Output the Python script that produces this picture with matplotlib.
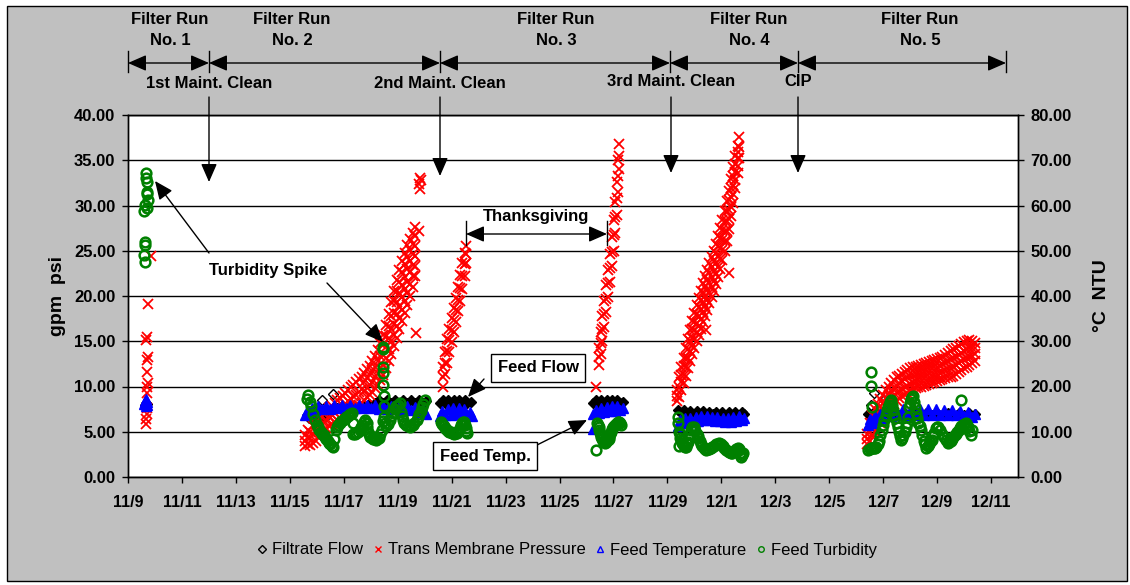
import pandas as pd
import matplotlib
matplotlib.use('Agg')
import matplotlib.pyplot as plt
from matplotlib.ticker import FuncFormatter, MultipleLocator, FormatStrFormatter
from matplotlib.lines import Line2D
from matplotlib.patches import Rectangle
import matplotlib.dates as mdates

plt.rcParams['font.family'] = ['Liberation Sans', 'DejaVu Sans']
plt.rcParams['font.weight'] = 'bold'

start = pd.Timestamp('2004-11-09')

# all times are days after 11/9 0:00
flow_pts = [  # (day, gpm)
    (0.62, 8.0), (0.66, 8.2), (0.70, 8.1), (0.64, 7.8),
    (6.62, 6.8), (6.72, 6.5), (6.82, 7.0), (6.92, 6.4), (7.02, 6.8), (7.12, 6.5),
    (7.22, 6.9), (7.32, 6.6), (7.42, 7.0), (7.55, 7.4),
    (7.75, 7.6), (7.95, 7.8), (8.15, 7.7), (8.35, 7.9), (8.55, 7.8), (8.75, 8.0),
    (8.95, 8.1), (9.15, 8.2), (9.30, 8.5), (9.45, 8.2), (9.60, 8.5), (9.75, 8.2),
    (9.90, 8.5), (10.05, 8.2), (10.20, 8.5), (10.35, 8.2), (10.50, 8.5), (10.65, 8.2),
    (10.80, 8.5), (10.95, 8.2), (11.05, 8.4),
    (11.58, 8.2), (11.68, 8.5), (11.78, 8.1), (11.88, 8.5), (11.98, 8.2), (12.08, 8.5),
    (12.18, 8.1), (12.28, 8.5), (12.38, 8.2), (12.48, 8.5), (12.58, 8.2), (12.70, 8.3),
    (17.25, 8.2), (17.35, 8.5), (17.45, 8.1), (17.55, 8.5), (17.65, 8.2), (17.75, 8.5),
    (17.85, 8.1), (17.95, 8.5), (18.05, 8.2), (18.15, 8.5), (18.25, 8.2), (18.36, 8.3),
    (20.38, 7.4), (20.50, 7.1), (20.60, 7.4), (20.72, 7.1), (20.84, 7.3), (20.96, 7.0),
    (21.08, 7.3), (21.20, 7.0), (21.32, 7.3), (21.44, 7.0), (21.56, 7.2), (21.68, 7.0),
    (21.80, 7.2), (21.92, 6.9), (22.04, 7.2), (22.16, 6.9), (22.28, 7.2), (22.40, 6.9),
    (22.52, 7.2), (22.64, 6.9), (22.76, 7.2), (22.85, 7.0),
    (27.42, 7.0), (27.60, 7.2), (27.80, 7.0),
    (28.00, 7.2), (28.20, 6.9), (28.40, 7.1), (28.60, 6.9), (28.80, 7.1), (29.00, 6.9),
    (29.20, 7.1), (29.40, 6.9), (29.60, 7.1), (29.80, 6.9), (30.00, 7.1), (30.20, 6.9),
    (30.40, 7.1), (30.60, 6.9), (30.80, 7.1), (31.00, 6.9), (31.20, 7.1), (31.42, 7.0),
]
flow_stray = [(7.20, 8.5), (7.60, 9.2), (27.55, 8.0), (27.67, 9.3), (28.04, 8.5)]

tmp_run1 = [  # (day, psi)
    (0.66, 5.9), (0.68, 6.4), (0.70, 7.0), (0.72, 7.6), (0.71, 9.3), (0.69, 10.0),
    (0.73, 10.4), (0.70, 11.6), (0.72, 12.9), (0.74, 13.3), (0.68, 15.1), (0.72, 15.5),
    (0.75, 19.1), (0.84, 24.4),
]
tmp_bands = [  # (day, psi readings across the band at that time)
    # run 2
    (6.56, 3.4, 4.0, 4.6), (6.66, 3.6, 4.4, 5.2), (6.76, 3.5, 4.3, 5.0), (6.86, 3.8, 4.7, 5.6),
    (6.96, 4.0, 5.0, 5.9), (7.06, 4.4, 5.3, 6.2), (7.16, 4.8, 5.7, 6.6), (7.26, 5.1, 6.0, 7.0),
    (7.36, 5.4, 6.3, 7.3), (7.46, 5.6, 6.6, 7.6), (7.56, 5.9, 6.9, 7.9), (7.66, 6.1, 7.1, 8.2),
    (7.76, 6.3, 7.4, 8.5), (7.86, 6.5, 7.6, 8.7), (7.96, 6.7, 7.9, 9.0), (8.06, 6.9, 8.1, 9.3),
    (8.16, 7.1, 8.4, 9.6), (8.26, 7.4, 8.6, 9.9), (8.36, 7.6, 8.9, 10.2), (8.46, 7.8, 9.1, 10.5),
    (8.56, 8.0, 9.4, 10.8), (8.66, 8.2, 9.7, 11.1), (8.76, 8.5, 9.5, 10.5, 11.5),
    (8.86, 8.8, 9.8, 10.9, 11.9), (8.96, 9.1, 10.2, 11.3, 12.3), (9.06, 9.4, 10.5, 11.7, 12.8),
    (9.16, 9.8, 11.0, 12.2, 13.4), (9.26, 10.2, 11.5, 12.8, 14.0), (9.36, 10.7, 12.0, 13.4, 14.8),
    (9.46, 11.3, 12.4, 13.5, 14.6, 15.7), (9.56, 12.0, 13.2, 14.4, 15.6, 16.8),
    (9.66, 12.8, 14.1, 15.4, 16.7, 18.0), (9.76, 13.6, 15.0, 16.4, 17.8, 19.3),
    (9.86, 14.5, 15.7, 16.9, 18.1, 19.4, 20.6), (9.96, 15.4, 16.7, 18.0, 19.3, 20.6, 21.8),
    (10.06, 16.3, 17.6, 18.9, 20.3, 21.6, 22.9), (10.16, 17.2, 18.5, 19.9, 21.2, 22.6, 23.9),
    (10.26, 18.1, 19.4, 20.8, 22.1, 23.5, 24.8), (10.36, 19.0, 20.3, 21.6, 23.0, 24.3, 25.6),
    (10.46, 20.0, 21.3, 22.6, 23.9, 25.1, 26.3), (10.56, 21.0, 22.2, 23.4, 24.6, 25.8, 27.0),
    (10.66, 22.2, 23.3, 24.4, 25.5, 26.6, 27.6),
    # run 3, before Thanksgiving
    (11.68, 10.0, 11.0, 12.2), (11.76, 11.4, 12.6, 13.8), (11.84, 12.6, 13.9, 15.2),
    (11.92, 13.8, 15.1, 16.4), (12.00, 14.9, 16.2, 17.6), (12.08, 16.0, 17.3, 18.7),
    (12.16, 17.1, 18.4, 19.8), (12.24, 18.3, 19.6, 21.0), (12.32, 19.5, 20.9, 22.3),
    (12.40, 20.8, 22.2, 23.6), (12.48, 22.2, 23.5, 24.8), (12.55, 23.6, 24.6, 25.5),
    # run 3, after Thanksgiving
    (17.45, 12.4, 13.3, 14.3), (17.52, 13.6, 14.8, 16.0), (17.59, 15.0, 16.4, 17.8),
    (17.66, 16.6, 18.0, 19.5), (17.73, 18.2, 19.7, 21.2), (17.80, 19.9, 21.4, 22.9),
    (17.87, 21.6, 23.1, 24.6), (17.94, 23.3, 24.9, 26.5), (18.01, 25.0, 26.7, 28.4),
    (18.07, 27.0, 28.7, 30.4), (18.12, 29.0, 30.8, 32.6), (18.16, 31.5, 33.3, 35.0),
    (18.20, 34.0, 35.5, 36.8),
    # run 4
    (20.36, 8.4, 8.9, 9.6), (20.44, 8.8, 9.9, 11.0), (20.52, 9.6, 10.5, 11.3, 12.2),
    (20.60, 10.4, 11.3, 12.3, 13.2), (20.68, 11.2, 12.2, 13.2, 14.2), (20.76, 12.0, 13.1, 14.1, 15.2),
    (20.84, 12.8, 13.9, 15.0, 16.2), (20.92, 13.6, 14.5, 15.4, 16.3, 17.2),
    (21.00, 14.3, 15.2, 16.2, 17.1, 18.1), (21.08, 15.0, 16.0, 17.0, 18.0, 19.0),
    (21.16, 15.7, 16.7, 17.8, 18.8, 19.8), (21.24, 16.4, 17.5, 18.6, 19.6, 20.6),
    (21.32, 17.1, 18.2, 19.3, 20.4, 21.4), (21.40, 17.8, 18.9, 20.0, 21.1, 22.2),
    (21.48, 18.5, 19.6, 20.7, 21.8, 22.9), (21.56, 19.2, 20.3, 21.4, 22.5, 23.6),
    (21.64, 19.9, 21.0, 22.1, 23.2, 24.3), (21.72, 20.6, 21.7, 22.8, 23.9, 25.0),
    (21.80, 21.3, 22.4, 23.6, 24.7, 25.8), (21.88, 22.1, 23.2, 24.4, 25.5, 26.6),
    (21.96, 23.0, 24.1, 25.3, 26.4, 27.5), (22.04, 24.0, 25.1, 26.2, 27.3, 28.4),
    (22.12, 25.0, 26.1, 27.2, 28.3, 29.4), (22.20, 26.1, 27.2, 28.3, 29.4, 30.5),
    (22.28, 27.4, 28.5, 29.5, 30.6, 31.6), (22.36, 28.8, 29.8, 30.9, 31.9, 32.9),
    (22.44, 30.3, 31.3, 32.3, 33.3, 34.3), (22.52, 31.9, 32.8, 33.7, 34.6, 35.5),
    (22.60, 33.6, 34.4, 35.2, 35.9, 36.6), (22.66, 35.2, 36.5, 37.6),
    # run 5
    (27.40, 3.6, 4.2, 4.8), (27.50, 4.0, 5.0, 6.0), (27.60, 4.5, 5.6, 6.8), (27.70, 5.0, 6.2, 7.5),
    (27.80, 5.5, 6.4, 7.2, 8.1), (27.90, 6.0, 6.9, 7.7, 8.6), (28.00, 6.5, 7.4, 8.2, 9.1),
    (28.10, 7.0, 7.9, 8.7, 9.6), (28.20, 7.4, 8.3, 9.1, 10.0), (28.30, 7.8, 8.7, 9.5, 10.4),
    (28.40, 8.1, 9.0, 9.8, 10.7), (28.50, 8.4, 9.3, 10.1, 11.0), (28.60, 8.7, 9.5, 10.4, 11.2),
    (28.70, 8.9, 9.7, 10.6, 11.4), (28.80, 9.1, 9.9, 10.8, 11.6), (28.90, 9.3, 10.1, 11.0, 11.8),
    (29.00, 9.5, 10.3, 11.2, 12.0), (29.10, 9.7, 10.5, 11.3, 12.1), (29.20, 9.8, 10.6, 11.4, 12.2),
    (29.30, 9.9, 10.7, 11.5, 12.3), (29.40, 10.0, 10.8, 11.6, 12.4), (29.50, 10.1, 10.9, 11.7, 12.5),
    (29.60, 10.2, 11.0, 11.8, 12.6), (29.70, 10.3, 11.1, 11.9, 12.7), (29.80, 10.4, 11.2, 12.0, 12.8),
    (29.90, 10.5, 11.3, 12.1, 12.9), (30.00, 10.6, 11.4, 12.2, 13.0), (30.10, 10.7, 11.5, 12.3, 13.1),
    (30.20, 10.8, 11.6, 12.5, 13.3), (30.30, 10.9, 11.8, 12.6, 13.5), (30.40, 11.0, 11.9, 12.8, 13.7),
    (30.50, 11.1, 12.0, 13.0, 13.9), (30.60, 11.2, 12.2, 13.1, 14.1), (30.70, 11.4, 12.4, 13.3, 14.3),
    (30.80, 11.6, 12.6, 13.5, 14.5), (30.90, 11.8, 12.8, 13.7, 14.7), (31.00, 12.0, 13.0, 13.9, 14.9),
    (31.10, 12.2, 13.1, 14.1, 15.0), (31.20, 12.4, 13.3, 14.2, 15.1), (31.30, 12.6, 13.4, 14.2, 15.0),
    (31.40, 12.8, 13.6, 14.3, 14.8),
]
tmp_stray = [
    (10.69, 15.9), (10.80, 32.4), (10.82, 33.0), (10.84, 31.8), (10.86, 32.8), (10.78, 27.2),
    (17.37, 9.9), (22.30, 22.5), (21.44, 16.2),
]

temp_pts = [  # (day, deg C)
    (0.60, 16.2), (0.63, 16.8), (0.66, 17.2), (0.69, 16.6), (0.72, 16.0), (0.65, 15.8),
    (6.56, 13.8), (6.62, 14.6), (6.72, 14.4), (6.82, 15.2), (6.92, 14.8), (7.05, 15.6),
    (7.20, 15.0), (7.35, 15.8), (7.50, 15.1), (7.65, 15.9), (7.80, 15.2), (7.95, 16.0),
    (8.10, 15.2), (8.25, 16.0), (8.40, 15.3), (8.55, 16.0), (8.70, 15.2), (8.85, 15.9),
    (9.00, 15.2), (9.15, 15.9), (9.30, 15.1), (9.45, 15.8), (9.60, 15.0), (9.75, 15.8),
    (9.90, 15.0), (10.05, 15.7), (10.20, 14.9), (10.35, 15.6), (10.50, 14.7), (10.65, 15.4),
    (10.80, 14.4), (10.95, 15.0), (11.05, 14.0),
    (11.58, 13.4), (11.66, 14.6), (11.76, 13.6), (11.86, 15.0), (11.96, 13.8), (12.06, 15.2),
    (12.16, 14.0), (12.26, 15.2), (12.36, 14.0), (12.46, 15.0), (12.56, 13.8), (12.68, 14.4),
    (12.74, 13.4),
    (17.25, 14.0), (17.35, 14.8), (17.45, 14.2), (17.55, 15.2), (17.65, 14.4), (17.75, 15.4),
    (17.85, 14.6), (17.95, 15.6), (18.05, 14.6), (18.15, 15.6), (18.25, 14.8), (18.36, 15.2),
    (17.25, 10.6),
    (20.38, 11.2), (20.45, 12.6), (20.55, 12.0), (20.65, 13.0), (20.75, 12.2), (20.85, 13.0),
    (20.95, 12.2), (21.05, 13.2), (21.15, 12.4), (21.25, 13.4), (21.35, 12.6), (21.45, 13.4),
    (21.55, 12.6), (21.65, 13.2), (21.75, 12.4), (21.85, 13.2), (21.95, 12.4), (22.05, 13.0),
    (22.15, 12.2), (22.25, 13.0), (22.35, 12.2), (22.45, 13.2), (22.55, 12.4), (22.65, 13.4),
    (22.75, 12.6), (22.85, 13.0),
    (27.42, 11.6), (27.50, 12.8), (27.60, 12.0), (27.70, 13.4), (27.80, 12.6), (27.90, 14.0),
    (28.00, 13.0), (28.15, 14.6), (28.30, 13.4), (28.45, 14.8), (28.60, 13.6), (28.75, 15.0),
    (28.90, 13.8), (29.05, 15.0), (29.20, 13.8), (29.35, 15.0), (29.50, 13.8), (29.65, 15.0),
    (29.80, 13.8), (29.95, 15.0), (30.10, 13.8), (30.25, 14.8), (30.40, 13.6), (30.55, 14.8),
    (30.70, 13.6), (30.85, 14.6), (31.00, 13.4), (31.15, 14.4), (31.30, 13.2), (31.42, 14.0),
]

turb_pts = [  # (day, NTU)
    (0.68, 67.2), (0.66, 66.0), (0.70, 65.2), (0.72, 63.0), (0.70, 62.6), (0.74, 61.2),
    (0.64, 60.2), (0.72, 59.4), (0.60, 58.8), (0.62, 52.0), (0.64, 51.2), (0.60, 49.0),
    (0.62, 47.6),
    (6.62, 17.2), (6.67, 18.2), (6.75, 16.6), (6.80, 15.6), (6.87, 14.0), (6.93, 12.6),
    (7.00, 11.6), (7.05, 11.0), (7.10, 10.4), (7.15, 10.0), (7.20, 9.6), (7.25, 9.2),
    (7.30, 8.8), (7.35, 8.4), (7.40, 8.0), (7.45, 7.6), (7.50, 7.2), (7.55, 6.9),
    (7.60, 6.6), (7.65, 8.4), (7.70, 10.4), (7.75, 11.0), (7.80, 11.6), (7.85, 12.0),
    (7.90, 12.4), (7.97, 12.6), (8.03, 12.9), (8.10, 13.2), (8.15, 13.5), (8.20, 13.8),
    (8.25, 14.0), (8.30, 14.2), (8.33, 12.0), (8.35, 9.6), (8.40, 9.6), (8.45, 9.8),
    (8.52, 10.0), (8.60, 10.4), (8.65, 11.0), (8.70, 11.6), (8.75, 12.2), (8.80, 12.6),
    (8.85, 12.0), (8.88, 11.0), (8.90, 10.0), (8.94, 9.4), (8.97, 8.8), (9.03, 8.6),
    (9.10, 8.4), (9.15, 8.3), (9.20, 8.2), (9.25, 8.4), (9.30, 8.6), (9.35, 9.4),
    (9.40, 10.4), (9.45, 12.4), (9.50, 13.2),
    (9.45, 28.8), (9.47, 28.2), (9.44, 24.2), (9.46, 23.0), (9.45, 20.4), (9.48, 18.0),
    (9.49, 15.6), (9.54, 12.0), (9.58, 11.2), (9.64, 11.8), (9.70, 12.6), (9.76, 13.4),
    (9.83, 14.2), (9.89, 15.0), (9.95, 15.6), (10.01, 16.0), (10.07, 16.4), (10.12, 14.4),
    (10.16, 13.4), (10.20, 12.6), (10.25, 12.0), (10.30, 11.6), (10.37, 11.2), (10.44, 11.0),
    (10.50, 11.2), (10.55, 11.6), (10.62, 12.0), (10.70, 12.6), (10.75, 13.2), (10.80, 14.0),
    (10.85, 14.6), (10.90, 15.4), (10.95, 16.2), (11.00, 17.0),
    (11.62, 12.2), (11.65, 11.8), (11.68, 11.6), (11.72, 11.2), (11.76, 10.8), (11.80, 10.6),
    (11.84, 10.4), (11.88, 10.2), (11.92, 10.0), (11.96, 9.9), (12.00, 9.8), (12.05, 9.7),
    (12.10, 9.6), (12.15, 9.7), (12.20, 9.8), (12.25, 10.2), (12.30, 10.8), (12.34, 11.4),
    (12.38, 12.0), (12.42, 12.2), (12.46, 12.2), (12.49, 11.6), (12.52, 10.8), (12.55, 10.2),
    (12.58, 9.8),
    (17.35, 6.0), (17.40, 12.0), (17.43, 11.4), (17.45, 11.0), (17.48, 10.4), (17.50, 9.8),
    (17.53, 9.2), (17.55, 8.8), (17.58, 8.4), (17.62, 8.0), (17.66, 7.8), (17.70, 7.6),
    (17.74, 7.8), (17.78, 8.2), (17.82, 8.5), (17.85, 8.8), (17.88, 9.4), (17.92, 10.0),
    (17.95, 10.6), (17.97, 11.0), (18.01, 11.3), (18.05, 11.6), (18.09, 11.8), (18.12, 12.0),
    (18.16, 12.2), (18.20, 12.2), (18.24, 12.0), (18.28, 11.6),
    (20.38, 13.2), (20.40, 12.0), (20.42, 10.0), (20.44, 6.8), (20.46, 9.4), (20.48, 8.6),
    (20.51, 8.1), (20.55, 7.6), (20.58, 7.2), (20.62, 6.8), (20.66, 6.7), (20.70, 6.6),
    (20.74, 7.2), (20.78, 7.8), (20.82, 8.6), (20.85, 9.6), (20.89, 10.4), (20.93, 11.0),
    (20.97, 11.0), (21.00, 10.8), (21.04, 10.2), (21.08, 9.6), (21.12, 9.1), (21.15, 8.6),
    (21.20, 8.0), (21.25, 7.4), (21.30, 6.9), (21.35, 6.4), (21.40, 6.2), (21.44, 6.0),
    (21.50, 6.1), (21.55, 6.2), (21.61, 6.4), (21.67, 6.6), (21.74, 6.9), (21.80, 7.2),
    (21.87, 7.4), (21.93, 7.6), (21.99, 7.2), (22.05, 6.8), (22.11, 6.4), (22.17, 6.0),
    (22.24, 5.8), (22.30, 5.6), (22.35, 5.4), (22.40, 5.2), (22.45, 5.5), (22.50, 5.8),
    (22.55, 6.1), (22.60, 6.4), (22.64, 6.2), (22.67, 6.0), (22.70, 5.2), (22.73, 4.4),
    (22.77, 4.9), (22.80, 5.4),
    (27.55, 23.2), (27.55, 20.2), (27.60, 15.4),
    (27.45, 6.0), (27.50, 6.2), (27.55, 6.4), (27.60, 6.4), (27.65, 6.4), (27.70, 6.5),
    (27.75, 6.6), (27.80, 7.2), (27.85, 8.0), (27.90, 9.2), (27.96, 10.4), (28.00, 11.4),
    (28.05, 12.6), (28.10, 13.8), (28.15, 14.8), (28.18, 15.4), (28.22, 16.0), (28.26, 16.6),
    (28.30, 17.0), (28.34, 16.0), (28.38, 14.8), (28.42, 13.8), (28.45, 13.0), (28.50, 12.0),
    (28.54, 11.0), (28.58, 10.0), (28.62, 9.0), (28.67, 8.2), (28.71, 8.6), (28.75, 9.2),
    (28.80, 10.0), (28.85, 11.0), (28.89, 12.0), (28.92, 13.2), (28.96, 15.4), (29.00, 16.4),
    (29.03, 17.2), (29.07, 17.6), (29.10, 18.0), (29.15, 16.6), (29.17, 15.4), (29.20, 14.2),
    (29.25, 13.0), (29.30, 12.0), (29.35, 11.2), (29.40, 10.4), (29.45, 9.2), (29.50, 8.0),
    (29.55, 7.2), (29.60, 6.4), (29.65, 6.8), (29.70, 7.2), (29.75, 7.7), (29.80, 8.2),
    (29.85, 9.0), (29.90, 9.8), (29.96, 10.8), (30.01, 11.0), (30.05, 11.0), (30.10, 10.4),
    (30.17, 9.6), (30.25, 8.8), (30.32, 8.2), (30.40, 7.6), (30.45, 7.8), (30.50, 8.0),
    (30.55, 8.4), (30.60, 8.8), (30.65, 9.2), (30.70, 9.6), (30.75, 10.0), (30.80, 10.4),
    (30.85, 10.8), (30.90, 11.2), (30.90, 17.0), (30.95, 11.5), (31.00, 11.8), (31.07, 12.0),
    (31.11, 11.6), (31.15, 11.0), (31.20, 10.2), (31.26, 9.2), (31.30, 10.4),
]

run_labels = ['Filter Run\nNo. 1', 'Filter Run\nNo. 2', 'Filter Run\nNo. 3',
              'Filter Run\nNo. 4', 'Filter Run\nNo. 5']
clean_labels = ['1st Maint. Clean', '2nd Maint. Clean', '3rd Maint. Clean', 'CIP']
legend_labels = ['Filtrate Flow', 'Trans Membrane Pressure', 'Feed Temperature', 'Feed Turbidity']

tmp_pts = tmp_run1 + [(row[0], v) for row in tmp_bands for v in row[1:]] + tmp_stray


def to_dates(pts):
    d, v = zip(*pts)
    return start + pd.to_timedelta(list(d), unit='D'), list(v)


W, H = 1130, 585
fig = plt.figure(figsize=(W / 100, H / 100), dpi=100, facecolor='white')


def fp(x, y):
    # pixel position (from top-left) -> figure fraction
    return (x / W, 1 - y / H)


fig.patches.append(Rectangle(fp(7, 581), 1120 / W, 575 / H, transform=fig.transFigure,
                             facecolor='#c0c0c0', edgecolor='black', lw=1, zorder=-5))

ax = fig.add_axes([128 / W, 1 - 477 / H, 890 / W, 362 / H])
ax2 = ax.twinx()

x, y = to_dates(flow_pts)
ax.plot(x, y, ls='none', marker='D', ms=5.5, mfc='black', mec='black', mew=1)
x, y = to_dates(flow_stray)
ax.plot(x, y, ls='none', marker='D', ms=5, mfc='white', mec='black', mew=1)
x, y = to_dates(tmp_pts)
ax.plot(x, y, ls='none', marker='x', ms=7.5, mec='red', mew=1.3)
x, y = to_dates(temp_pts)
ax2.plot(x, y, ls='none', marker='^', ms=7, mfc='blue', mec='blue', mew=1)
x, y = to_dates(turb_pts)
ax2.plot(x, y, ls='none', marker='o', ms=7, mfc='none', mec='#008000', mew=1.8)

ax.set_xlim(start, start + pd.Timedelta(days=33))
ax.set_ylim(0, 40)
ax2.set_ylim(0, 80)
ax.yaxis.set_major_locator(MultipleLocator(5))
ax2.yaxis.set_major_locator(MultipleLocator(10))
ax.yaxis.set_major_formatter(FormatStrFormatter('%.2f'))
ax2.yaxis.set_major_formatter(FormatStrFormatter('%.2f'))
ax.set_xticks(pd.date_range(start, periods=17, freq='2D'))
ax.xaxis.set_major_formatter(FuncFormatter(
    lambda v, pos: f"{mdates.num2date(v).month}/{mdates.num2date(v).day}"))
ax.grid(axis='y', color='black', lw=1)
ax.set_axisbelow(True)
for a in (ax, ax2):
    a.tick_params(direction='out', length=4, width=1, labelsize=12, pad=5)
    for s in a.spines.values():
        s.set_linewidth(1)
ax.tick_params(axis='x', pad=9, labelsize=11.5)

fig.text(*fp(57, 296), 'gpm  psi', rotation=90, ha='center', va='center', fontsize=14)
fig.text(*fp(1101, 296), '°C  NTU', rotation=90, ha='center', va='center', fontsize=14)

# run brackets along the top
edges = [128, 209, 440, 670, 798, 1006]
run_x = [170, 292, 556, 749, 920]
bracket = dict(arrowstyle='<|-|>,head_length=0.8,head_width=0.35', color='black', lw=1,
               shrinkA=0, shrinkB=0, mutation_scale=14)
for a, b in zip(edges[:-1], edges[1:]):
    ax.annotate('', xy=fp(b, 63), xytext=fp(a, 63), xycoords='figure fraction',
                arrowprops=bracket, annotation_clip=False)
for e in edges:
    fig.add_artist(Line2D([e / W, e / W], [1 - 51 / H, 1 - 72 / H], color='black', lw=1))
for xx, lbl in zip(run_x, run_labels):
    fig.text(*fp(xx, 30), lbl, ha='center', va='center', fontsize=12, linespacing=1.55)

down = dict(arrowstyle='-|>,head_length=0.8,head_width=0.35', color='black', lw=1,
            shrinkA=0, shrinkB=0, mutation_scale=14)
clean_x = [209, 440, 671, 798]
clean_y = [84, 84, 81, 81]
tips = [182, 176, 173, 173]
for xx, ty_, tip, lbl in zip(clean_x, clean_y, tips, clean_labels):
    fig.text(*fp(xx, ty_), lbl, ha='center', va='center', fontsize=12)
    ax.annotate('', xy=fp(xx, tip), xytext=fp(xx, 97), xycoords='figure fraction',
                arrowprops=down, annotation_clip=False)

# Thanksgiving span
ax.annotate('', xy=fp(607, 234), xytext=fp(466, 234), xycoords='figure fraction',
            arrowprops=bracket, annotation_clip=False)
for e in (466, 607):
    fig.add_artist(Line2D([e / W, e / W], [1 - 221 / H, 1 - 245 / H], color='black', lw=1))
fig.text(*fp(536, 216), 'Thanksgiving', ha='center', va='center', fontsize=12)

# turbidity spike callouts
fig.text(*fp(268, 271), 'Turbidity Spike', ha='center', va='center', fontsize=12)
for tail, tip in [((209, 253), (155, 181)), ((327, 283), (383, 342))]:
    ax.annotate('', xy=fp(*tip), xytext=fp(*tail), xycoords='figure fraction',
                arrowprops=down, annotation_clip=False)

box = dict(boxstyle='square,pad=0.4', fc='white', ec='black', lw=1)
fig.text(*fp(538, 368), 'Feed Flow', ha='center', va='center', fontsize=12, bbox=box)
ax.annotate('', xy=fp(468, 397), xytext=fp(484, 379), xycoords='figure fraction',
            arrowprops=down, annotation_clip=False)
fig.text(*fp(485, 456), 'Feed Temp.', ha='center', va='center', fontsize=12, bbox=box)
ax.annotate('', xy=fp(587, 420), xytext=fp(537, 445), xycoords='figure fraction',
            arrowprops=down, annotation_clip=False)

handles = [
    Line2D([], [], ls='none', marker='D', ms=4, mfc='none', mec='black', mew=1),
    Line2D([], [], ls='none', marker='x', ms=5, mec='red', mew=1),
    Line2D([], [], ls='none', marker='^', ms=5, mfc='none', mec='blue', mew=1),
    Line2D([], [], ls='none', marker='o', ms=4, mfc='none', mec='#008000', mew=1),
]
fig.legend(handles, legend_labels, loc='center', bbox_to_anchor=fp(567, 550), ncol=4,
           frameon=False, prop={'size': 12, 'weight': 'normal'}, handlelength=0.6,
           handletextpad=0.3, columnspacing=0.6)

fig.savefig('out.png', dpi=100, facecolor=fig.get_facecolor())
